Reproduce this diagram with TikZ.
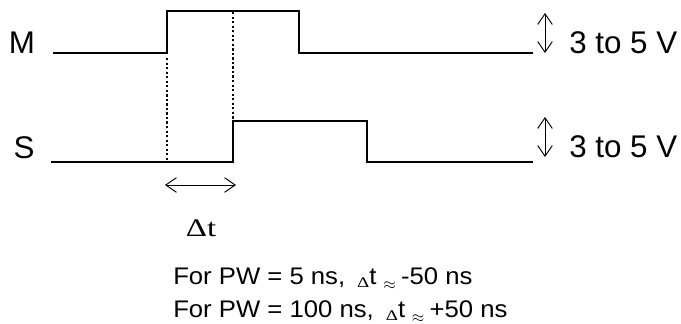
\documentclass[tikz,border=0pt]{standalone}
\usepackage{fontspec}
\setmainfont{Liberation Sans}
\newfontfamily\notefont{Liberation Sans}[FakeStretch=1.07]
\newfontfamily\deltafont{Liberation Serif}[FakeStretch=1.3]
\usetikzlibrary{arrows.meta}
\newcommand{\smalldelta}{\raisebox{-0.3ex}{\deltafont\fontsize{11}{12}\selectfont Δ}}
\newcommand{\smallapprox}{\raisebox{-0.4ex}{\fontsize{13}{14}\selectfont$\approx$}}

\begin{document}
\begin{tikzpicture}[x=0.75pt, y=-0.75pt,
    wave/.style={line width=0.8pt},
    guide/.style={line width=1.5pt, dash pattern=on 1.7pt off 1.7pt},
    span/.style={line width=0.7pt, {Straight Barb[length=8pt,width=11pt]}-{Straight Barb[length=8pt,width=11pt]}},
    big/.style={font=\fontsize{23.5}{26}\selectfont, inner sep=0pt},
    note/.style={font=\notefont\fontsize{18}{20}\selectfont, inner sep=0pt, anchor=base west}]
    \useasboundingbox (0,0) rectangle (681,324);

    % Signal names
    \node[big, anchor=base] (mname) at (22,54) {M};
    \node[big, anchor=base] (sname) at (24,159) {S};

    % Waveforms
    \draw[wave] (53,53) -- (167,53) -- (167,11) -- (299,11) -- (299,53) -- (533,53);
    \draw[wave] (51,162) -- (233,162) -- (233,121) -- (367,121) -- (367,162) -- (533,162);

    % Edge markers
    \draw[guide] (167,58) -- (167,162);
    \draw[guide] (233,12) -- (233,121);

    % Amplitudes
    \coordinate (mtop) at (545,13);
    \coordinate (mbot) at (545,53);
    \coordinate (stop) at (545,117);
    \coordinate (sbot) at (545,157);
    \draw[span] (mtop) -- (mbot);
    \draw[span] (stop) -- (sbot);
    \node[big, anchor=base west] (mamp) at (569,54) {3 to 5 V};
    \node[big, anchor=base west] (samp) at (569,157) {3 to 5 V};

    % Delay
    \coordinate (dleft) at (165,185);
    \coordinate (dright) at (236,185);
    \draw[span] (dleft) -- (dright);
    \node[inner sep=0pt, anchor=base, font=\deltafont\fontsize{19}{21}\selectfont] (dt) at (201,236) {Δt};

    % Notes
    \node[note] (note1) at (173,284) {For PW = 5 ns,\hspace{9pt}\smalldelta t\hspace{5pt}\smallapprox\hspace{4pt}-50 ns};
    \node[note] (note2) at (173,317) {For PW = 100 ns,\hspace{9pt}\smalldelta t\hspace{5pt}\smallapprox\hspace{4pt}+50 ns};
\end{tikzpicture}
\end{document}
